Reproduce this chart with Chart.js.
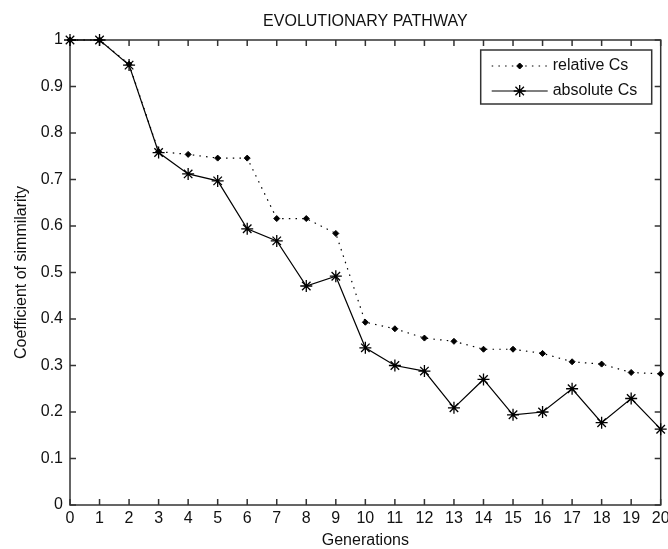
<!DOCTYPE html>
<html><head><meta charset="utf-8">
<script src="https://cdn.jsdelivr.net/npm/chart.js@4"></script>
<style>html,body{margin:0;padding:0;background:#fff;} canvas{display:block;}</style>
</head><body>
<canvas id="c" width="668" height="549" style="width:668px;height:549px"></canvas>
<script>
const generations = [0,1,2,3,4,5,6,7,8,9,10,11,12,13,14,15,16,17,18,19,20];
const relativeCs = [1, 1, 0.948, 0.76, 0.754, 0.746, 0.746, 0.616, 0.616, 0.584, 0.393, 0.379, 0.359, 0.352, 0.335, 0.335, 0.326, 0.308, 0.303, 0.285, 0.282];
const absoluteCs = [1, 1, 0.946, 0.758, 0.712, 0.697, 0.594, 0.568, 0.471, 0.492, 0.338, 0.300, 0.288, 0.209, 0.270, 0.194, 0.200, 0.250, 0.177, 0.229, 0.163];
const xTickValues = [0,1,2,3,4,5,6,7,8,9,10,11,12,13,14,15,16,17,18,19,20];
const yTickValues = [0,0.1,0.2,0.3,0.4,0.5,0.6,0.7,0.8,0.9,1];
const yTickLabels = ['0','0.1','0.2','0.3','0.4','0.5','0.6','0.7','0.8','0.9','1'];
const seriesNames = ['relative Cs','absolute Cs'];
const chartTitle = 'EVOLUTIONARY PATHWAY';
const xLabel = 'Generations';
const yLabel = 'Coefficient of simmilarity';

const FONT = "'Liberation Sans', Arial, sans-serif";
const TXT = '#111';
const AXIS = '#333';

const framePlugin = {
  id: 'frame',
  beforeDatasetsDraw(chart) {
    const {ctx, chartArea: a, scales} = chart;
    ctx.save();
    ctx.strokeStyle = AXIS;
    ctx.lineWidth = 1.5;
    ctx.setLineDash([]);
    ctx.strokeRect(a.left, a.top, a.right - a.left, a.bottom - a.top);
    const t = 6;
    ctx.beginPath();
    xTickValues.forEach(v => {
      const px = scales.x.getPixelForValue(v);
      ctx.moveTo(px, a.bottom); ctx.lineTo(px, a.bottom - t);
      ctx.moveTo(px, a.top); ctx.lineTo(px, a.top + t);
    });
    yTickValues.forEach(v => {
      const py = scales.y.getPixelForValue(v);
      ctx.moveTo(a.left, py); ctx.lineTo(a.left + t, py);
      ctx.moveTo(a.right, py); ctx.lineTo(a.right - t, py);
    });
    ctx.stroke();
    ctx.restore();
  },
  afterDraw(chart) {
    const {ctx, chartArea: a} = chart;
    const bx = a.right - 180, by = a.top + 10, bw = 171, bh = 54;
    ctx.save();
    ctx.fillStyle = '#fff';
    ctx.fillRect(bx, by, bw, bh);
    ctx.strokeStyle = AXIS;
    ctx.lineWidth = 1.5;
    ctx.strokeRect(bx, by, bw, bh);
    chart.data.datasets.forEach((ds, i) => {
      const cy = by + 16 + i * 25;
      ctx.strokeStyle = ds.borderColor;
      ctx.fillStyle = ds.pointBackgroundColor;
      ctx.lineWidth = ds.borderWidth;
      ctx.setLineDash(ds.borderDash || []);
      ctx.beginPath();
      ctx.moveTo(bx + 11, cy); ctx.lineTo(bx + 67, cy);
      ctx.stroke();
      ctx.setLineDash([]);
      ctx.lineWidth = ds.pointBorderWidth;
      Chart.helpers.drawPoint(ctx, {pointStyle: ds.pointStyle, radius: ds.pointRadius, rotation: 0, borderWidth: ds.pointBorderWidth}, bx + 39, cy);
      ctx.fillStyle = TXT;
      ctx.font = '16px ' + FONT;
      ctx.textBaseline = 'middle';
      ctx.textAlign = 'left';
      ctx.fillText(ds.label, bx + 72, cy);
    });
    ctx.restore();
  }
};

new Chart(document.getElementById('c'), {
  type: 'line',
  data: {
    datasets: [
      {
        label: seriesNames[0],
        data: generations.map((g, i) => ({x: g, y: relativeCs[i]})),
        borderColor: '#000', borderWidth: 1.2, borderDash: [1.5, 5.2],
        pointStyle: 'rectRot', pointRadius: 3, pointBackgroundColor: '#000', pointBorderColor: '#000', pointBorderWidth: 1,
        tension: 0, clip: false, fill: false
      },
      {
        label: seriesNames[1],
        data: generations.map((g, i) => ({x: g, y: absoluteCs[i]})),
        borderColor: '#000', borderWidth: 1.2,
        pointStyle: 'star', pointRadius: 6, pointBackgroundColor: '#000', pointBorderColor: '#000', pointBorderWidth: 1.3,
        tension: 0, clip: false, fill: false
      }
    ]
  },
  plugins: [framePlugin],
  options: {
    responsive: false,
    animation: false,
    devicePixelRatio: 1,
    layout: {padding: {left: 0, right: 5, top: 0, bottom: 0}},
    plugins: {legend: {display: false}, title: {display: false}, tooltip: {enabled: false}},
    scales: {
      x: {
        type: 'linear', position: 'bottom', min: 0, max: 20,
        afterBuildTicks: s => { s.ticks = xTickValues.map(v => ({value: v})); },
        afterFit: s => { s.height = 44; s.paddingLeft = 0; s.paddingRight = 0; },
        ticks: {font: {family: FONT, size: 16}, color: TXT, padding: 4, maxRotation: 0, autoSkip: false},
        grid: {display: false, drawTicks: false},
        border: {display: false},
        title: {display: true, text: xLabel, font: {family: FONT, size: 16}, color: TXT, padding: {top: 0, bottom: -1}}
      },
      x2: {
        type: 'linear', position: 'top', min: 0, max: 20, display: true,
        afterFit: s => { s.height = 40; s.paddingLeft = 0; s.paddingRight = 0; },
        ticks: {display: false},
        grid: {display: false, drawTicks: false},
        border: {display: false},
        title: {display: true, text: chartTitle, font: {family: FONT, size: 16}, color: TXT, padding: {top: 12, bottom: 0}}
      },
      y: {
        type: 'linear', position: 'left', min: 0, max: 1,
        afterBuildTicks: s => { s.ticks = yTickValues.map(v => ({value: v})); },
        afterFit: s => { s.width = 70; s.paddingTop = 0; s.paddingBottom = 0; },
        ticks: {font: {family: FONT, size: 16}, color: TXT, padding: 7, callback: (v, i) => yTickLabels[i]},
        grid: {display: false, drawTicks: false},
        border: {display: false},
        title: {display: true, text: yLabel, font: {family: FONT, size: 16}, color: TXT, padding: {top: 12, bottom: 0}}
      }
    }
  }
});
</script>
</body></html>
